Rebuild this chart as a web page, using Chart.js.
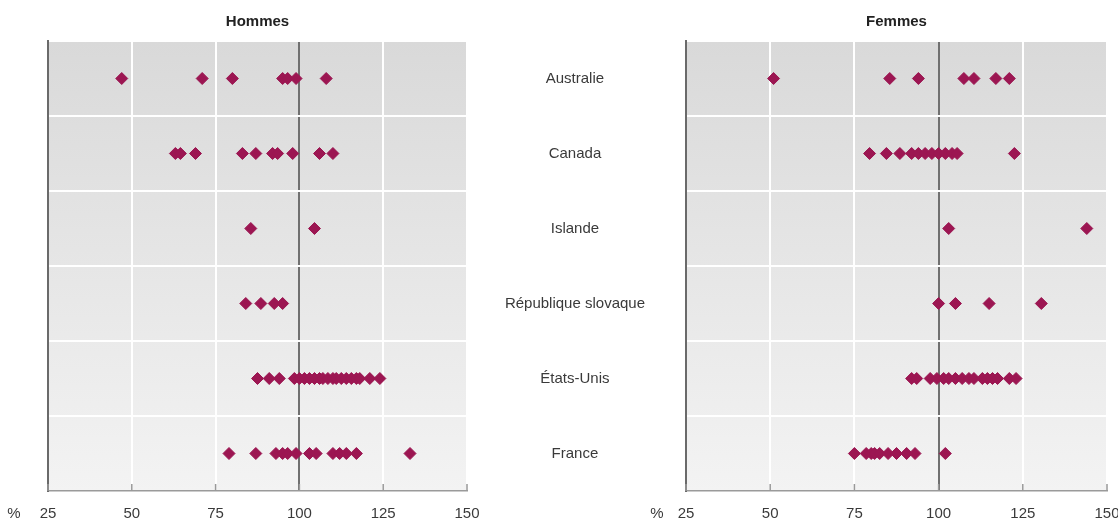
<!DOCTYPE html>
<html>
<head>
<meta charset="utf-8">
<script src="https://cdn.jsdelivr.net/npm/chart.js@4.4.0/dist/chart.umd.min.js"></script>
<style>
  body { margin: 0; background: #fff; width: 1118px; height: 527px; overflow: hidden; position: relative; }
  #hommes { position: absolute; left: 0; top: 0; }
  #femmes { position: absolute; left: 480px; top: 0; }
</style>
</head>
<body>
<canvas id="hommes" width="480" height="527"></canvas>
<canvas id="femmes" width="638" height="527"></canvas>
<script>
// categories and tick labels
var pays = ["Australie", "Canada", "Islande", "République slovaque", "États-Unis", "France"];
var ticksX = [25, 50, 75, 100, 125, 150];

// Hommes (%)
var hommesAustralie = [47, 71, 80, 95, 96.5, 99, 108];
var hommesCanada = [63, 64.5, 69, 83, 87, 92, 93.5, 98, 106, 110];
var hommesIslande = [85.5, 104.5];
var hommesSlovaquie = [84, 88.5, 92.5, 95];
var hommesEtatsUnis = [87.5, 91, 94, 98.5, 100, 101.5, 103, 104.5, 106, 107, 108.5, 110, 111, 112.5, 114, 115.5, 117, 118, 121, 124];
var hommesFrance = [79, 87, 93, 95, 96.5, 99, 103, 105, 110, 112, 114, 117, 133];

// Femmes (%)
var femmesAustralie = [51, 85.5, 94, 107.5, 110.5, 117, 121];
var femmesCanada = [79.5, 84.5, 88.5, 92, 94, 96, 98, 100, 102, 104, 105.5, 122.5];
var femmesIslande = [103, 144];
var femmesSlovaquie = [100, 105, 115, 130.5];
var femmesEtatsUnis = [92, 93.5, 97.5, 99.5, 101.5, 103, 105, 107, 109, 110.5, 113, 114.5, 116, 117.5, 121, 123];
var femmesFrance = [75, 78.5, 80, 81, 82.5, 85, 87.5, 90.5, 93, 102];

var hommes = [hommesAustralie, hommesCanada, hommesIslande, hommesSlovaquie, hommesEtatsUnis, hommesFrance];
var femmes = [femmesAustralie, femmesCanada, femmesIslande, femmesSlovaquie, femmesEtatsUnis, femmesFrance];

var police = "'Liberation Sans', Arial, sans-serif";
Chart.defaults.font.family = police;
Chart.defaults.font.size = 15;
Chart.defaults.color = "#3a3a3a";

function points(groupes) {
  var out = [];
  groupes.forEach(function (g, i) {
    g.forEach(function (v) { out.push({ x: v, y: pays[i] }); });
  });
  return out;
}

// gradient background, little ticks on the bottom axis, "%" unit
var fond = {
  id: "fond",
  beforeDraw: function (chart) {
    var a = chart.chartArea, ctx = chart.ctx;
    var g = ctx.createLinearGradient(0, a.top, 0, a.bottom);
    g.addColorStop(0, "#d9d9d9");
    g.addColorStop(1, "#f3f3f3");
    ctx.save();
    ctx.fillStyle = g;
    ctx.fillRect(a.left, a.top, a.right - a.left, a.bottom - a.top);
    ctx.restore();
  },
  afterDraw: function (chart, args, opts) {
    var a = chart.chartArea, ctx = chart.ctx, sx = chart.scales.x;
    ctx.save();
    ctx.strokeStyle = "#999";
    ctx.lineWidth = 1.5;
    sx.ticks.forEach(function (t) {
      var px = sx.getPixelForValue(t.value);
      ctx.beginPath();
      ctx.moveTo(px, a.bottom);
      ctx.lineTo(px, a.bottom - 7);
      ctx.stroke();
    });
    ctx.fillStyle = "#3a3a3a";
    ctx.font = "15px " + police;
    ctx.textAlign = "center";
    ctx.textBaseline = "middle";
    ctx.fillText("%", a.left + opts.unite, a.bottom + 23);
    ctx.restore();
  }
};

function config(titre, groupes, montrerPays, padding, unite) {
  return {
    type: "scatter",
    data: {
      datasets: [{
        data: points(groupes),
        pointStyle: "rectRot",
        pointRadius: 6,
        pointHoverRadius: 6,
        backgroundColor: "#9c1652",
        borderColor: "#9c1652",
        borderWidth: 1
      }]
    },
    options: {
      responsive: false,
      animation: false,
      layout: { padding: padding },
      plugins: {
        legend: { display: false },
        tooltip: { enabled: false },
        fond: { unite: unite },
        title: {
          display: true,
          text: titre,
          fullSize: false,
          color: "#222",
          font: { size: 15, weight: "bold" },
          padding: { top: 0, bottom: 10 }
        }
      },
      scales: {
        x: {
          type: "linear",
          min: 25,
          max: 150,
          afterBuildTicks: function (s) { s.ticks = ticksX.map(function (v) { return { value: v }; }); },
          afterFit: function (s) { s.height = 32; s.paddingLeft = 0; s.paddingRight = 0; },
          ticks: { padding: 14, maxRotation: 0 },
          grid: {
            drawTicks: false,
            lineWidth: 2,
            color: function (c) {
              if (c.tick && c.tick.value === 100) return "#707070";
              return "#ffffff";
            }
          },
          border: { color: "#9a9a9a", width: 1.5 }
        },
        y: {
          type: "category",
          labels: pays,
          offset: true,
          afterFit: function (s) {
            if (montrerPays) s.width = 206;
            s.paddingTop = 0;
            s.paddingBottom = 0;
          },
          ticks: { display: montrerPays, crossAlign: "center", padding: 41, color: "#3a3a3a" },
          grid: { offset: true, drawTicks: false, color: "#ffffff", lineWidth: 2 },
          border: { color: "#6a6a6a", width: 2 }
        }
      }
    },
    plugins: [fond]
  };
}

new Chart(document.getElementById("hommes"), config("Hommes", hommes, false, { left: 48, right: 13, top: 13, bottom: 4 }, -34));
new Chart(document.getElementById("femmes"), config("Femmes", femmes, true, { left: 0, right: 11, top: 13, bottom: 4 }, -29));
</script>
</body>
</html>
